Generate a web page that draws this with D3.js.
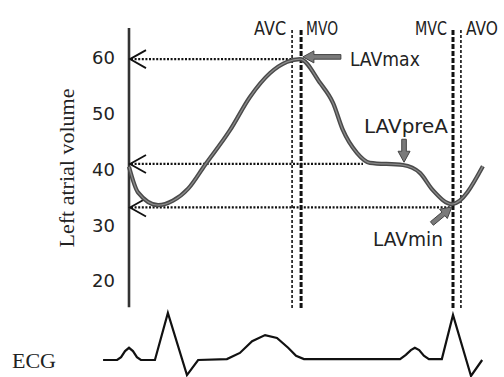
<!DOCTYPE html>
<html>
<head>
<meta charset="utf-8">
<script src="https://cdn.jsdelivr.net/npm/d3@7"></script>
<style>
  html, body { margin: 0; padding: 0; background: #fff; }
  svg { display: block; }
</style>
</head>
<body>
<svg id="chart" width="504" height="377"></svg>
<script>
// left atrial volume curve (ms, ml)
const lavTime = [0, 25, 81, 122, 165, 211, 281, 336, 392, 439, 475, 531, 567, 594, 633, 669, 761, 808, 844, 897, 983];
const lavVolume = [40.5, 35.9, 33.6, 34.4, 36.6, 40.8, 47.1, 53.0, 57.3, 59.3, 59.8, 55.5, 51.9, 47.1, 43.0, 41.2, 40.8, 39.4, 36.3, 33.8, 40.6];

// ECG trace (ms, mV)
const ecgTime = [-72, -33, -22, -11, 0, 11, 22, 33, 72, 108, 161, 192, 272, 308, 342, 378, 411, 442, 464, 486, 753, 769, 783, 794, 806, 819, 833, 869, 900, 950, 981];
const ecgAmp = [0, 0, 0.06, 0.19, 0.26, 0.19, 0.06, 0, 0, 1.0, -0.32, 0, 0.02, 0.15, 0.40, 0.53, 0.47, 0.26, 0.09, 0.02, 0.02, 0.11, 0.21, 0.26, 0.21, 0.09, 0.02, 0.02, 0.96, -0.34, 0];

// valve events
const eventNames = ["AVC", "MVO", "MVC", "AVO"];
const eventTime = [453, 478, 900, 922];

// reference volumes (dotted lines) and where they end
const refVolume = [59.8, 41.0, 33.2];
const refEnd = [475, 650, 892];

// annotations
const annoNames = ["LAVmax", "LAVpreA", "LAVmin"];
const annoTime = [483, 764, 897];
const annoVolume = [60.2, 41.3, 33.3];

const yTicks = [20, 30, 40, 50, 60];

const svg = d3.select("#chart");

const x = d3.scaleLinear().domain([0, 1000]).range([129, 489]);
const y = d3.scaleLinear().domain([20, 60]).range([281, 58]);
const ecgY = d3.scaleLinear().domain([0, 1]).range([360, 313]);

const labelFont = "'DejaVu Sans', sans-serif";
const serifFont = "'Liberation Serif', 'DejaVu Serif', serif";

// y axis line
svg.append("line")
    .attr("x1", x(0)).attr("x2", x(0))
    .attr("y1", y(65.4)).attr("y2", y(15.3))
    .attr("stroke", "#333")
    .attr("stroke-width", 2.6);

// tick labels
svg.append("g")
    .attr("transform", `translate(${x(0)},0)`)
    .call(d3.axisLeft(y).tickValues(yTicks).tickSize(0).tickPadding(14))
    .call(g => g.select(".domain").remove())
    .selectAll("text")
    .attr("font-family", labelFont)
    .attr("font-size", 18)
    .attr("fill", "#222");

svg.append("text")
    .attr("transform", `translate(74,168) rotate(-90)`)
    .attr("text-anchor", "middle")
    .attr("font-family", serifFont)
    .attr("font-size", 22)
    .attr("fill", "#222")
    .text("Left atrial volume");

// vertical event lines
const eventStyle = [
    { w: 1.6, dash: "3,2" },
    { w: 3, dash: "5,2" },
    { w: 3, dash: "5,2" },
    { w: 1.6, dash: "3,2" }
];
svg.append("g").selectAll("line")
    .data(eventTime)
    .join("line")
    .attr("x1", d => x(d)).attr("x2", d => x(d))
    .attr("y1", 30).attr("y2", 308)
    .attr("stroke", "#111")
    .attr("stroke-width", (d, i) => eventStyle[i].w)
    .attr("stroke-dasharray", (d, i) => eventStyle[i].dash);

svg.append("g").selectAll("text")
    .data(eventNames)
    .join("text")
    .attr("x", (d, i) => i % 2 === 0 ? x(eventTime[i]) - 6 : x(eventTime[i]) + 5)
    .attr("y", 35)
    .attr("text-anchor", (d, i) => i % 2 === 0 ? "end" : "start")
    .attr("font-family", labelFont)
    .attr("font-size", 19)
    .attr("textLength", 32)
    .attr("lengthAdjust", "spacingAndGlyphs")
    .attr("fill", "#222")
    .text(d => d);

// dotted reference lines
svg.append("g").selectAll("line")
    .data(refVolume)
    .join("line")
    .attr("x1", x(0) + 2).attr("x2", (d, i) => x(refEnd[i]))
    .attr("y1", d => y(d)).attr("y2", d => y(d))
    .attr("stroke", "#111")
    .attr("stroke-width", 2.2)
    .attr("stroke-dasharray", "2,1.6");

svg.append("g").selectAll("path")
    .data(refVolume)
    .join("path")
    .attr("d", d => `M${x(0) + 17},${y(d) - 9}L${x(0) + 1},${y(d)}L${x(0) + 17},${y(d) + 9}`)
    .attr("fill", "none")
    .attr("stroke", "#111")
    .attr("stroke-width", 1.8);

// volume curve
const lavLine = d3.line()
    .x((d, i) => x(lavTime[i]))
    .y(d => y(d))
    .curve(d3.curveMonotoneX);

svg.append("path")
    .attr("d", lavLine(lavVolume))
    .attr("fill", "none")
    .attr("stroke", "#4a4a4a")
    .attr("stroke-width", 4.2);
svg.append("path")
    .attr("d", lavLine(lavVolume))
    .attr("fill", "none")
    .attr("stroke", "#8a8a8a")
    .attr("stroke-width", 1.3);

// annotation arrows: direction the arrow points, and label placement
const arrowDir = [[-1, 0], [0, 1], [0.77, -0.64]];
const arrowLen = [38, 23, 26];
const labelPos = [[47, 9], [-40, -29], [-79, 39]];
const labelLen = [70, 84, 70];

annoNames.forEach((name, i) => {
    const tx = x(annoTime[i]), ty = y(annoVolume[i]);
    const [dx, dy] = arrowDir[i];
    const nx = -dy, ny = dx;
    const L = arrowLen[i], head = 11, hw = 6, sw = 2.3;
    const bx = tx - dx * head, by = ty - dy * head;
    const sx = tx - dx * L, sy = ty - dy * L;
    const pts = [
        [tx, ty],
        [bx + nx * hw, by + ny * hw],
        [bx + nx * sw, by + ny * sw],
        [sx + nx * sw, sy + ny * sw],
        [sx - nx * sw, sy - ny * sw],
        [bx - nx * sw, by - ny * sw],
        [bx - nx * hw, by - ny * hw]
    ];
    svg.append("path")
        .attr("d", "M" + pts.map(p => p.join(",")).join("L") + "Z")
        .attr("fill", "#7a7a7a")
        .attr("stroke", "#444")
        .attr("stroke-width", 1);

    svg.append("text")
        .attr("x", tx + labelPos[i][0])
        .attr("y", ty + labelPos[i][1])
        .attr("font-family", labelFont)
        .attr("font-size", 20)
        .attr("textLength", labelLen[i])
        .attr("lengthAdjust", "spacingAndGlyphs")
        .attr("fill", "#222")
        .text(name);
});

// ECG
const ecgLine = d3.line()
    .x((d, i) => x(ecgTime[i]))
    .y(d => ecgY(d));

svg.append("path")
    .attr("d", ecgLine(ecgAmp))
    .attr("fill", "none")
    .attr("stroke", "#111")
    .attr("stroke-width", 2.2)
    .attr("stroke-linejoin", "miter");

svg.append("text")
    .attr("x", 12)
    .attr("y", 368)
    .attr("font-family", serifFont)
    .attr("font-size", 22)
    .attr("fill", "#222")
    .text("ECG");
</script>
</body>
</html>
